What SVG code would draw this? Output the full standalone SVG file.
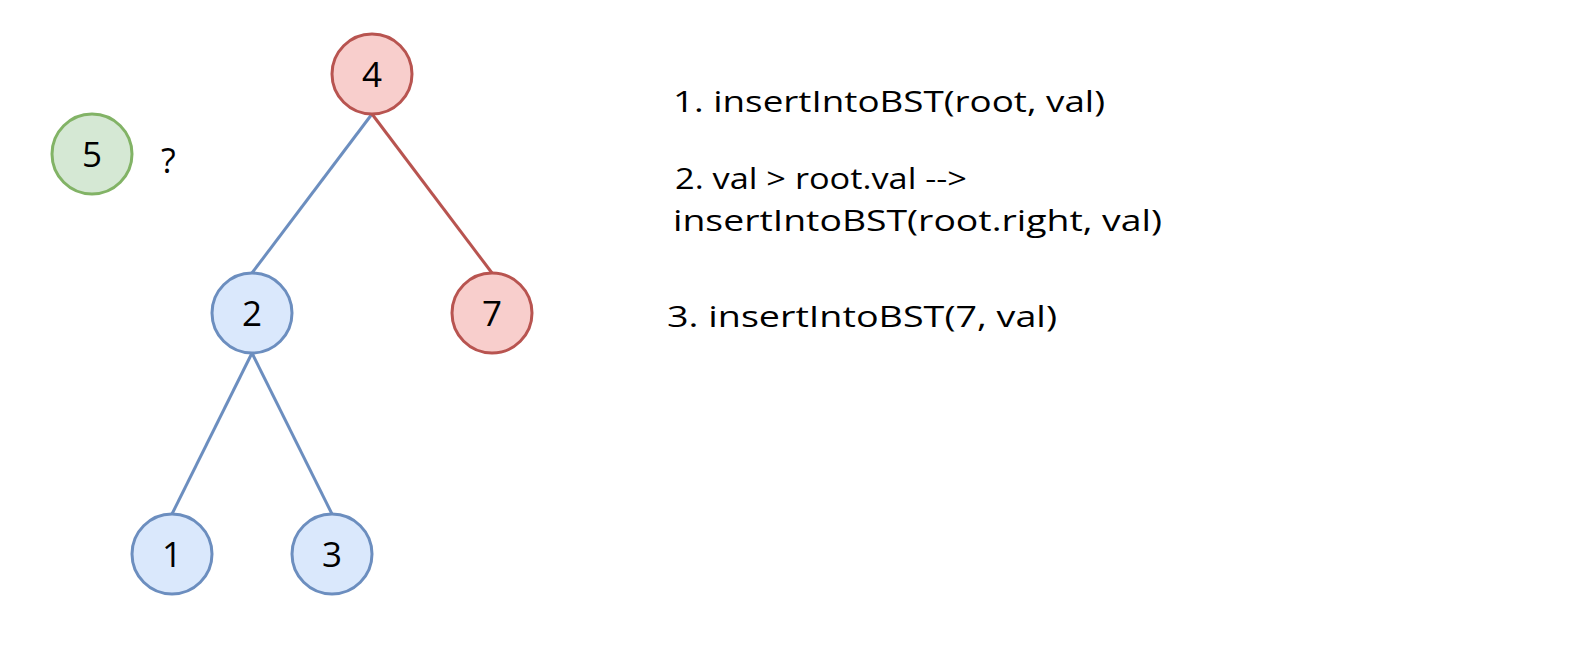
<svg xmlns="http://www.w3.org/2000/svg" width="1580" height="664" viewBox="0 0 1580 664">
<style>
text{font-family:"Comic Sans MS","Open Sans","Liberation Sans",sans-serif;fill:#000}
.lbl{font-size:35px;text-anchor:middle}
.red{fill:#f8cecc;stroke:#b85450;stroke-width:3}
.blue{fill:#dae8fc;stroke:#6c8ebf;stroke-width:3}
.green{fill:#d5e8d4;stroke:#82b366;stroke-width:3}
.eb{stroke:#6c8ebf;stroke-width:3;fill:none}
.er{stroke:#b85450;stroke-width:3;fill:none}
.t{font-size:30px}
</style>
<rect width="1580" height="664" fill="#fff"/>
<g id="connectors">
<line class="eb" x1="372" y1="114" x2="252" y2="273"/>
<line class="er" x1="372" y1="114" x2="492" y2="273"/>
<line class="eb" x1="252" y1="353" x2="172" y2="514"/>
<line class="eb" x1="252" y1="353" x2="332" y2="514"/>
</g>
<g id="node4"><circle class="red" cx="372" cy="74" r="40"/><text class="lbl" x="372" y="87">4</text></g>
<g id="node5"><circle class="green" cx="92" cy="154" r="40"/><text class="lbl" x="92" y="167">5</text></g>
<g id="q"><text x="161" y="173" style="font-size:34px">?</text></g>
<g id="node2"><circle class="blue" cx="252" cy="313" r="40"/><text class="lbl" x="252" y="326">2</text></g>
<g id="node7"><circle class="red" cx="492" cy="313" r="40"/><text class="lbl" x="492" y="326">7</text></g>
<g id="node1"><circle class="blue" cx="172" cy="554" r="40"/><text class="lbl" x="172" y="567">1</text></g>
<g id="node3"><circle class="blue" cx="332" cy="554" r="40"/><text class="lbl" x="332" y="567">3</text></g>
<g id="notes">
<text class="t" x="673" y="112" textLength="432" lengthAdjust="spacingAndGlyphs">1. insertIntoBST(root, val)</text>
<text class="t" x="675" y="189" textLength="292" lengthAdjust="spacingAndGlyphs">2. val &gt; root.val --&gt;</text>
<text class="t" x="673" y="231" textLength="489" lengthAdjust="spacingAndGlyphs">insertIntoBST(root.right, val)</text>
<text class="t" x="667" y="327" textLength="390" lengthAdjust="spacingAndGlyphs">3. insertIntoBST(7, val)</text>
</g>
</svg>
